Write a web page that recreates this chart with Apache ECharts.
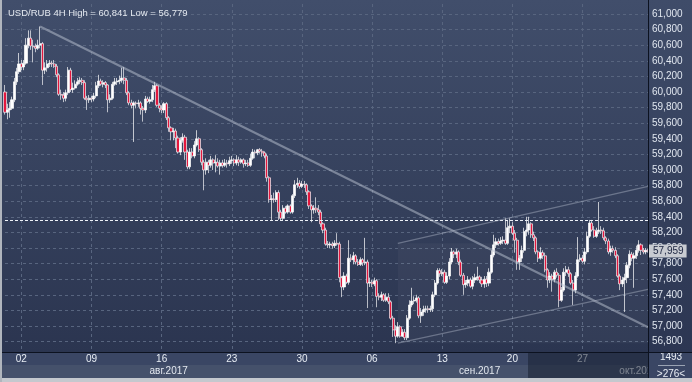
<!DOCTYPE html>
<html><head><meta charset="utf-8">
<script src="https://cdn.jsdelivr.net/npm/echarts@6/dist/echarts.min.js"></script>
<style>
html,body{margin:0;padding:0;width:692px;height:382px;overflow:hidden;background:#c4c8ce;}
#wrap{position:relative;width:692px;height:382px;}
.p{position:absolute;}
#chart{position:absolute;left:0;top:0;width:692px;height:382px;}
</style></head><body>
<div id="wrap">
<div class="p" style="left:0;top:0;width:648px;height:352px;background:linear-gradient(#414e6b,#2b3550);"></div>
<div class="p" style="left:649px;top:0;width:43px;height:352px;background:linear-gradient(#3f4c69,#2c3652);"></div>
<div id="chart"></div>
</div>
<script>
const chartTitle = 'USD/RUB 4H High = 60,841 Low = 56,779';
const candleCount = 276;
const firstBarUTC = [2017, 6, 31, 20];

const opens = [60.00,59.74,59.77,59.79,59.90,60.13,60.26,60.36,60.32,60.37,
60.60,60.69,60.59,60.58,60.56,60.60,60.62,60.28,60.31,60.36,
60.37,60.36,60.33,60.22,59.97,59.96,59.92,59.99,60.28,60.03,
60.05,60.10,60.13,60.15,60.12,59.92,59.90,59.92,59.91,59.95,
60.08,60.14,60.10,60.12,60.09,59.90,59.92,60.10,60.13,60.14,
60.15,60.18,60.15,59.99,59.86,59.83,59.86,59.85,59.86,59.79,
59.77,59.91,59.88,59.90,60.03,60.08,59.83,59.79,59.77,59.85,
59.67,59.54,59.49,59.50,59.41,59.23,59.38,59.42,59.23,59.04,
59.23,59.18,59.32,59.40,59.26,59.10,59.00,59.10,59.06,59.13,
59.09,59.10,59.05,59.09,59.06,59.09,59.08,59.12,59.13,59.09,
59.13,59.10,59.13,59.08,59.09,59.06,59.15,59.23,59.22,59.26,
59.24,59.22,59.18,58.90,58.62,58.63,58.62,58.71,58.46,58.38,
58.51,58.46,58.54,58.46,58.67,58.81,58.83,58.79,58.82,58.81,
58.72,58.54,58.49,58.51,58.49,58.46,58.31,58.23,58.05,58.04,
58.05,58.03,58.06,58.05,57.62,57.50,57.64,57.56,57.87,57.85,
57.90,57.82,57.79,57.85,57.81,57.82,57.55,57.56,57.54,57.58,
57.38,57.37,57.40,57.33,57.37,57.31,57.10,56.95,56.87,56.99,
56.87,56.92,56.85,57.10,57.27,57.32,57.33,57.36,57.13,57.18,
57.21,57.22,57.21,57.22,57.40,57.55,57.71,57.67,57.69,57.56,
57.64,57.82,57.95,57.92,57.95,57.82,57.65,57.53,57.55,57.59,
57.51,57.59,57.62,57.63,57.59,57.54,57.60,57.55,57.69,57.91,
58.04,58.08,58.06,58.09,58.10,58.06,58.26,58.28,58.19,58.10,
57.82,57.87,57.97,58.21,58.23,58.31,58.17,58.13,57.95,57.87,
57.94,57.90,57.72,57.59,57.64,57.60,57.69,57.65,57.33,57.46,
57.69,57.72,57.67,57.55,57.46,57.64,57.85,57.87,57.83,57.95,
58.15,58.32,58.23,58.15,58.21,58.23,58.22,58.13,58.09,57.95,
57.99,57.97,57.90,57.64,57.54,57.59,57.62,57.78,57.92,57.87,
57.90,57.97,58.04,57.97,57.95,57.97];

const closes = [59.74,59.77,59.79,59.90,60.13,60.26,60.36,60.32,60.37,60.60,
60.69,60.59,60.58,60.56,60.60,60.62,60.28,60.31,60.36,60.37,
60.36,60.33,60.22,59.97,59.96,59.92,59.99,60.28,60.03,60.05,
60.10,60.13,60.15,60.12,59.92,59.90,59.92,59.91,59.95,60.08,
60.14,60.10,60.12,60.09,59.90,59.92,60.10,60.13,60.14,60.15,
60.18,60.15,59.99,59.86,59.83,59.86,59.85,59.86,59.79,59.77,
59.91,59.88,59.90,60.03,60.08,59.83,59.79,59.77,59.85,59.67,
59.54,59.49,59.50,59.41,59.23,59.38,59.42,59.23,59.04,59.23,
59.18,59.32,59.40,59.26,59.10,59.00,59.10,59.06,59.13,59.09,
59.10,59.05,59.09,59.06,59.09,59.08,59.12,59.13,59.09,59.13,
59.10,59.13,59.08,59.09,59.06,59.15,59.23,59.22,59.26,59.24,
59.22,59.18,58.90,58.62,58.63,58.62,58.71,58.46,58.38,58.51,
58.46,58.54,58.46,58.67,58.81,58.83,58.79,58.82,58.81,58.72,
58.54,58.49,58.51,58.49,58.46,58.31,58.23,58.05,58.04,58.05,
58.03,58.06,58.05,57.62,57.50,57.64,57.56,57.87,57.85,57.90,
57.82,57.79,57.85,57.81,57.82,57.55,57.56,57.54,57.58,57.38,
57.37,57.40,57.33,57.37,57.31,57.10,56.95,56.87,56.99,56.87,
56.92,56.85,57.10,57.27,57.32,57.33,57.36,57.13,57.18,57.21,
57.22,57.21,57.22,57.40,57.55,57.71,57.67,57.69,57.56,57.64,
57.82,57.95,57.92,57.95,57.82,57.65,57.53,57.55,57.59,57.51,
57.59,57.62,57.63,57.59,57.54,57.60,57.55,57.69,57.91,58.04,
58.08,58.06,58.09,58.10,58.06,58.26,58.28,58.19,58.10,57.82,
57.87,57.97,58.21,58.23,58.31,58.17,58.13,57.95,57.87,57.94,
57.90,57.72,57.59,57.64,57.60,57.69,57.65,57.33,57.46,57.69,
57.72,57.67,57.55,57.46,57.64,57.85,57.87,57.83,57.95,58.15,
58.32,58.23,58.15,58.21,58.23,58.22,58.13,58.09,57.95,57.99,
57.97,57.90,57.64,57.54,57.59,57.62,57.78,57.92,57.87,57.90,
57.97,58.04,57.97,57.95,57.97,57.959];

const lows = [59.71,59.65,59.67,59.77,59.87,60.09,60.23,60.28,60.28,60.35,
60.56,60.54,60.38,60.51,60.54,60.56,60.09,60.23,60.26,60.32,
60.32,60.31,60.19,59.95,59.90,59.87,59.88,59.96,60.00,59.99,
60.03,60.08,60.10,60.09,59.90,59.77,59.86,59.87,59.88,59.92,
60.05,60.08,60.06,60.05,59.74,59.86,59.90,60.08,60.09,60.10,
60.12,60.10,59.96,59.83,59.79,59.36,59.79,59.81,59.71,59.62,
59.73,59.86,59.85,59.87,60.00,59.81,59.74,59.73,59.73,59.64,
59.49,59.38,59.38,59.28,59.21,59.19,59.35,59.13,59.01,59.01,
59.15,59.15,59.30,59.23,59.06,58.74,58.94,58.96,59.03,59.00,
58.97,59.03,58.94,59.03,59.04,59.03,59.05,59.08,59.05,59.06,
59.05,59.08,59.03,59.05,59.04,59.04,59.13,59.15,59.19,59.21,
59.17,59.15,58.85,58.58,58.36,58.58,58.59,58.36,58.35,58.36,
58.44,58.44,58.44,58.44,58.64,58.77,58.76,58.77,58.77,58.68,
58.50,58.33,58.44,58.45,58.42,58.27,58.19,58.03,58.00,58.00,
57.99,58.00,58.03,57.56,57.37,57.46,57.54,57.53,57.82,57.79,
57.79,57.77,57.77,57.77,57.78,57.23,57.50,57.50,57.51,57.24,
57.33,57.32,57.31,57.31,57.28,57.08,56.86,56.78,56.85,56.85,
56.86,56.82,56.82,57.08,57.24,57.28,57.30,57.10,57.04,57.13,
57.17,57.17,57.18,57.18,57.37,57.53,57.63,57.64,57.54,57.54,
57.60,57.79,57.87,57.87,57.78,57.63,57.40,57.49,57.51,57.49,
57.47,57.55,57.58,57.55,57.50,57.49,57.50,57.51,57.67,57.88,
58.00,58.03,58.04,58.05,58.04,58.04,58.19,58.17,57.94,57.72,
57.72,57.82,57.94,58.15,58.17,58.13,58.09,57.92,57.82,57.85,
57.86,57.69,57.49,57.55,57.44,57.56,57.62,57.24,57.31,57.44,
57.64,57.63,57.53,57.27,57.42,57.62,57.82,57.81,57.79,57.92,
58.13,58.21,58.13,58.13,58.18,58.18,58.10,58.05,57.92,57.90,
57.94,57.87,57.62,57.46,57.50,57.18,57.55,57.74,57.83,57.49,
57.86,57.94,57.91,57.92,57.92,57.94];

const highs = [60.09,59.85,59.87,59.94,60.18,60.31,60.50,60.41,60.41,60.69,
60.79,60.79,60.67,60.62,60.67,60.84,60.64,60.38,60.41,60.41,
60.40,60.41,60.36,60.24,60.03,60.00,60.03,60.32,60.31,60.12,
60.15,60.18,60.19,60.18,60.15,59.95,59.96,59.95,59.99,60.13,
60.22,60.17,60.15,60.14,60.10,59.97,60.13,60.18,60.18,60.21,
60.31,60.32,60.18,60.01,59.90,59.88,59.88,59.90,59.88,59.82,
59.95,59.94,59.94,60.09,60.13,60.10,59.86,59.83,59.87,59.87,
59.69,59.56,59.54,59.53,59.44,59.42,59.47,59.45,59.26,59.28,
59.28,59.37,59.51,59.42,59.28,59.13,59.15,59.13,59.18,59.15,
59.19,59.15,59.13,59.13,59.14,59.13,59.17,59.18,59.15,59.19,
59.17,59.15,59.15,59.13,59.13,59.21,59.27,59.26,59.27,59.28,
59.27,59.24,59.21,58.92,58.68,58.71,58.74,58.74,58.49,58.55,
58.54,58.56,58.56,58.69,58.87,58.90,58.87,58.86,58.86,58.83,
58.74,58.56,58.55,58.65,58.55,58.49,58.33,58.26,58.09,58.08,
58.08,58.10,58.19,58.08,57.64,57.69,57.67,58.10,57.92,57.95,
57.92,57.86,57.88,57.87,58.13,57.85,57.62,57.59,57.62,57.60,
57.42,57.44,57.42,57.42,57.42,57.33,57.13,57.01,57.05,57.01,
56.96,56.96,57.14,57.33,57.49,57.38,57.40,57.38,57.23,57.26,
57.26,57.26,57.26,57.44,57.59,57.74,57.74,57.73,57.72,57.69,
57.87,58.00,57.97,57.99,57.97,57.85,57.68,57.59,57.64,57.62,
57.64,57.67,57.76,57.65,57.63,57.64,57.64,57.74,57.97,58.17,
58.13,58.12,58.14,58.15,58.38,58.36,58.38,58.33,58.23,58.13,
57.91,58.03,58.26,58.40,58.40,58.33,58.21,58.15,57.97,58.01,
57.97,57.94,57.74,57.69,57.67,57.72,57.74,57.68,57.50,57.74,
57.77,57.76,57.69,57.59,57.69,58.14,57.92,57.91,58.00,58.21,
58.36,58.36,58.28,58.26,58.59,58.28,58.26,58.15,58.12,58.03,
58.03,58.01,57.92,57.67,57.63,57.67,57.82,57.97,57.95,57.94,
58.03,58.10,58.06,58.00,58.00,57.99];

// annotations drawn on the chart: [categoryIndex, price]
const trendLineMain = [[15, 60.84], [275, 56.985]];
const channelUpper = [[168, 58.06], [275, 58.79]];
const channelLower = [[168, 56.78], [275, 57.47]];
const levelLine = 58.35;
const channelBox = [[168, 58.06], [275, 56.78]];

const monthLabels = ['авг.2017', 'сен.2017', 'окт.2017'];
const monthLabelIndex = [70, 203, 271];
const footerTop = '1493';
const footerBottom = '>276<';

function pad(n){return (n<10?'0':'')+n;}
const categories = [];
let t = Date.UTC.apply(null, firstBarUTC);
while (categories.length < candleCount) {
  const d = new Date(t);
  const wd = d.getUTCDay();
  if (wd !== 0 && wd !== 6) {
    categories.push(d.getUTCFullYear()+'-'+pad(d.getUTCMonth()+1)+'-'+pad(d.getUTCDate())+' '+pad(d.getUTCHours())+':00');
  }
  t += 4*3600*1000;
}
function isWeekMark(i){
  const c = categories[i];
  const d = new Date(c.replace(' ', 'T')+':00Z');
  return d.getUTCDay() === 3 && d.getUTCHours() === 0;
}
const ohlc = opens.map((o,i)=>[o, closes[i], lows[i], highs[i]]);
const lastClose = closes[closes.length-1];

const FONT = '"Liberation Sans", Arial, sans-serif';
const chart = echarts.init(document.getElementById('chart'), null, {renderer:'canvas'});
const gridLine = {color:'#58657f', type:[3,3], width:1};

chart.setOption({
  animation:false,
  backgroundColor:'transparent',
  title:{text:chartTitle, left:3, top:3, textStyle:{color:'#e4e9f0', fontSize:9.5, fontWeight:'normal', fontFamily:FONT}},
  grid:{left:5, right:44, top:4, bottom:24.8},
  xAxis:[
    {type:'category', data:categories, boundaryGap:false, axisLine:{show:false}, axisTick:{show:false}, axisLabel:{show:false},
     splitLine:{show:true, interval:(i)=>isWeekMark(i), lineStyle:gridLine}},
    {type:'category', data:categories, boundaryGap:false, position:'bottom', offset:-4.7, z:200,
     axisLine:{show:false}, axisTick:{show:false}, splitLine:{show:false},
     axisLabel:{show:true, interval:(i)=>isWeekMark(i), formatter:(v)=>v.slice(8,10), margin:2, color:'#e8edf4', fontSize:10, fontFamily:FONT}},
    {type:'category', data:categories, boundaryGap:false, position:'bottom', offset:7.3, z:200,
     axisLine:{show:false}, axisTick:{show:false}, splitLine:{show:false},
     axisLabel:{show:true, interval:(i)=>monthLabelIndex.indexOf(i)>=0, formatter:(v,i)=>monthLabels[monthLabelIndex.indexOf(i)]||'', margin:2, color:'#e2e7ef', fontSize:10, fontFamily:FONT}}
  ],
  yAxis:{type:'value', position:'right', min:56.6, max:61.128, interval:0.2,
    axisLine:{show:false}, axisTick:{show:false},
    splitLine:{show:true, showMinLine:false, showMaxLine:false, lineStyle:gridLine},
    axisLabel:{color:'#e0e6ef', fontSize:10, fontFamily:FONT, margin:4, showMinLabel:false, showMaxLabel:false,
      formatter:(v)=>v.toFixed(3).replace('.', ',')}},
  series:[{
    type:'candlestick', xAxisIndex:0, yAxisIndex:0, data:ohlc, barWidth:2.6,
    itemStyle:{color:'#ffffff', color0:'#e3173d', borderColor:'#ffffff', borderColor0:'#f4f4f6', borderWidth:0.7},
    markArea:{silent:true, itemStyle:{color:'rgba(255,255,255,0.035)'},
      data:[[{coord:channelBox[0]},{coord:channelBox[1]}]]},
    markLine:{silent:true, symbol:['none','none'], animation:false,
      data:[
        {yAxis:levelLine, lineStyle:{color:'#eef2f8', type:[3,2], width:1}, label:{show:false}},
        [{coord:trendLineMain[0], lineStyle:{color:'rgba(190,198,212,0.5)', width:2.2, type:'solid'}, label:{show:false}},{coord:trendLineMain[1]}],
        [{coord:channelUpper[0], lineStyle:{color:'rgba(190,198,212,0.4)', width:1.4, type:'solid'}, label:{show:false}},{coord:channelUpper[1]}],
        [{coord:channelLower[0], lineStyle:{color:'rgba(190,198,212,0.4)', width:1.4, type:'solid'}, label:{show:false}},{coord:channelLower[1]}]
      ]}
  },{
    type:'line', xAxisIndex:0, yAxisIndex:0, data:[], silent:true,
    markLine:{silent:true, symbol:['none','none'], animation:false,
      data:[{yAxis:lastClose, lineStyle:{color:'rgba(0,0,0,0)', width:0},
        label:{show:true, position:'end', distance:1,
          formatter:()=>lastClose.toFixed(3).replace('.', ','), backgroundColor:'#c8cbd1', color:'#1b2440',
          padding:[2,3,1,4], fontSize:10, fontFamily:FONT}}]}
  }],
  graphic:[
    {type:'rect', silent:true, z:100, shape:{x:0,y:352,width:692,height:13}, style:{fill:'#3a4664'}},
    {type:'rect', silent:true, z:100, shape:{x:0,y:365,width:692,height:13}, style:{fill:'#45516b'}},
    {type:'rect', silent:true, z:100, shape:{x:0,y:378,width:692,height:4}, style:{fill:'#c4c8ce'}},
    {type:'rect', silent:true, z:300, shape:{x:528,y:353,width:121,height:25}, style:{fill:'rgba(20,27,44,0.5)'}},
    {type:'rect', silent:true, z:310, shape:{x:649,y:353,width:43,height:25}, style:{fill:'#3a4664'}},
    {type:'text', silent:true, z:311, x:671, y:357.5, style:{text:footerTop, align:'center', verticalAlign:'middle', fill:'#e8edf4', font:'10px '+FONT}},
    {type:'line', silent:true, z:311, shape:{x1:658,y1:365.5,x2:685,y2:365.5}, style:{stroke:'#9aa3b3', lineWidth:1}},
    {type:'text', silent:true, z:311, x:671, y:374, style:{text:footerBottom, align:'center', verticalAlign:'middle', fill:'#e8edf4', font:'10px '+FONT}},
    {type:'line', silent:true, z:320, shape:{x1:648.5,y1:0,x2:648.5,y2:378}, style:{stroke:'#0c1220', lineWidth:1}},
    {type:'line', silent:true, z:320, shape:{x1:0,y1:352.5,x2:692,y2:352.5}, style:{stroke:'#0c1220', lineWidth:1}},
    {type:'rect', silent:true, z:320, shape:{x:0,y:0,width:2,height:382}, style:{fill:'#b0b5bd'}}
  ]
});
</script>
</body></html>
